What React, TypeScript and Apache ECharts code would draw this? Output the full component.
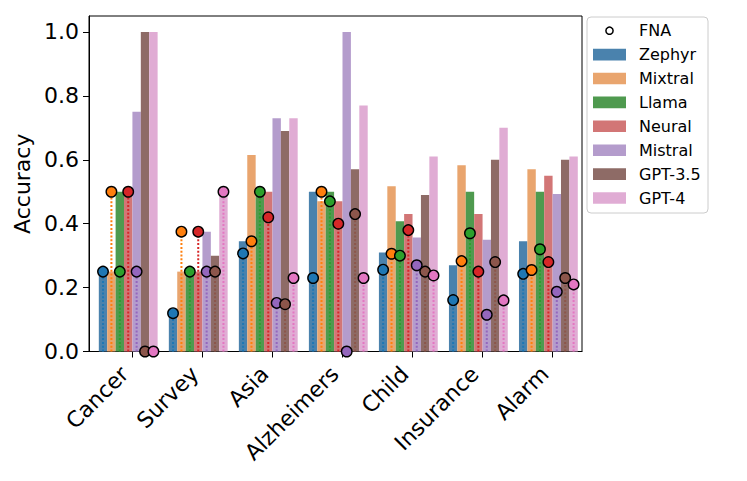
import React, { useEffect, useRef } from "react";
import * as echarts from "echarts";

const categories = ["Cancer", "Survey", "Asia", "Alzheimers", "Child", "Insurance", "Alarm"];
const models = ["Zephyr", "Mixtral", "Llama", "Neural", "Mistral", "GPT-3.5", "GPT-4"];

const zephyrAcc = [0.25, 0.12, 0.345, 0.5, 0.31, 0.27, 0.345];
const mixtralAcc = [0.25, 0.25, 0.615, 0.47, 0.517, 0.583, 0.57];
const llamaAcc = [0.5, 0.25, 0.5, 0.5, 0.408, 0.5, 0.5];
const neuralAcc = [0.5, 0.25, 0.5, 0.47, 0.43, 0.43, 0.55];
const mistralAcc = [0.75, 0.375, 0.73, 1.0, 0.357, 0.35, 0.493];
const gpt35Acc = [1.0, 0.3, 0.69, 0.57, 0.49, 0.6, 0.6];
const gpt4Acc = [1.0, 0.5, 0.73, 0.77, 0.61, 0.7, 0.61];

const zephyrFna = [0.25, 0.12, 0.307, 0.23, 0.256, 0.161, 0.243];
const mixtralFna = [0.5, 0.375, 0.345, 0.5, 0.306, 0.283, 0.255];
const llamaFna = [0.25, 0.25, 0.5, 0.47, 0.3, 0.37, 0.32];
const neuralFna = [0.5, 0.375, 0.42, 0.4, 0.38, 0.25, 0.28];
const mistralFna = [0.25, 0.25, 0.152, 0, 0.27, 0.115, 0.187];
const gpt35Fna = [0, 0.25, 0.148, 0.43, 0.25, 0.28, 0.23];
const gpt4Fna = [0, 0.5, 0.23, 0.23, 0.238, 0.16, 0.21];

const yTicks = [0, 0.2, 0.4, 0.6, 0.8, 1.0];

const accSeries = [zephyrAcc, mixtralAcc, llamaAcc, neuralAcc, mistralAcc, gpt35Acc, gpt4Acc];
const fnaSeries = [zephyrFna, mixtralFna, llamaFna, neuralFna, mistralFna, gpt35Fna, gpt4Fna];

const barColors = ["#4a82ad", "#e9a56e", "#4f9a4f", "#d27676", "#b49ccc", "#8e6b66", "#e0acd4"];
const markColors = ["#1f77b4", "#ff7f0e", "#2ca02c", "#d62728", "#9467bd", "#8c564b", "#e377c2"];

const BAR_W = 0.12;
const FONT = "DejaVu Sans";

export default function App() {
  const ref = useRef<HTMLDivElement>(null);
  useEffect(() => {
    if (!ref.current) return;
    const chart = echarts.init(ref.current, null, { renderer: "svg" });
    const series: any[] = [];
    models.forEach((name, m) => {
      series.push({
        type: "custom",
        name,
        z: 2,
        encode: { x: 0, y: 1 },
        data: categories.map((_, i) => [i, accSeries[m][i]]),
        renderItem: (params: any, api: any) => {
          const c = api.value(0);
          const v = api.value(1);
          const xc = c + (m - 3.5) * BAR_W;
          const a = api.coord([xc - BAR_W / 2, v]);
          const b = api.coord([xc + BAR_W / 2, 0]);
          return {
            type: "rect",
            shape: { x: a[0], y: a[1], width: b[0] - a[0], height: b[1] - a[1] },
            style: { fill: barColors[m] },
          };
        },
      });
    });
    models.forEach((name, m) => {
      series.push({
        type: "custom",
        name: name + " FNA line",
        z: 3,
        encode: { x: 0, y: 1 },
        data: categories.map((_, i) => [i, fnaSeries[m][i]]),
        renderItem: (params: any, api: any) => {
          const c = api.value(0);
          const v = api.value(1);
          const xc = c + (m - 3.5) * BAR_W;
          const a = api.coord([xc, v]);
          const b = api.coord([xc, 0]);
          return {
            type: "line",
            shape: { x1: b[0], y1: b[1], x2: a[0], y2: a[1] },
            style: { stroke: markColors[m], lineWidth: 2, lineDash: [2, 1.8] },
          };
        },
      });
    });
    models.forEach((name, m) => {
      series.push({
        type: "scatter",
        name: "FNA " + name,
        z: 4,
        clip: false,
        symbol: "circle",
        symbolSize: 10.5,
        itemStyle: { color: markColors[m], borderColor: "#000", borderWidth: 1.4, opacity: 1 },
        data: categories.map((_, i) => [i + (m - 3.5) * BAR_W, fnaSeries[m][i]]),
      });
    });

    const lx = 587, ly = 17;
    const rowY = (k: number) => 30.7 + k * 23.9;
    const graphics: any[] = [
      {
        type: "rect",
        shape: { x: lx, y: ly, width: 121, height: 196, r: 4 },
        style: { fill: "rgba(255,255,255,0.8)", stroke: "#cccccc", lineWidth: 1 },
        z: 10,
      },
      {
        type: "circle",
        shape: { cx: 609.5, cy: rowY(0), r: 3.6 },
        style: { fill: "none", stroke: "#000", lineWidth: 1.5 },
        z: 11,
      },
      {
        type: "text",
        x: 639,
        y: rowY(0),
        style: { text: "FNA", font: `16px "${FONT}"`, fill: "#000", verticalAlign: "middle", align: "left" },
        z: 11,
      },
    ];
    models.forEach((name, m) => {
      const cy = rowY(m + 1);
      graphics.push({
        type: "rect",
        shape: { x: 593, y: cy - 5.8, width: 33, height: 11.6 },
        style: { fill: barColors[m] },
        z: 11,
      });
      graphics.push({
        type: "text",
        x: 639,
        y: cy,
        style: { text: name, font: `16px "${FONT}"`, fill: "#000", verticalAlign: "middle", align: "left" },
        z: 11,
      });
    });

    chart.setOption({
      animation: false,
      backgroundColor: "#fff",
      textStyle: { fontFamily: FONT },
      grid: { left: 89, right: 165, top: 16, bottom: 129.5, show: true, borderColor: "#000", borderWidth: 1, backgroundColor: "transparent" },
      xAxis: {
        type: "value",
        min: -0.62,
        max: 6.42,
        splitLine: { show: false },
        axisLine: { show: true, onZero: false, lineStyle: { color: "#000", width: 1 } },
        axisTick: { show: true, length: 6, customValues: categories.map((_, i) => i), lineStyle: { color: "#000" } },
        axisLabel: {
          customValues: categories.map((_, i) => i),
          formatter: (v: number) => categories[Math.round(v)] ?? "",
          rotate: 45,
          fontSize: 22,
          color: "#000",
          fontFamily: FONT,
          margin: 11,
          padding: [0, 11, 0, 0],
        },
      },
      yAxis: {
        type: "value",
        min: 0,
        max: 1.05,
        name: "Accuracy",
        nameLocation: "middle",
        nameGap: 51,
        nameTextStyle: { fontSize: 22, color: "#000", fontFamily: FONT },
        splitLine: { show: false },
        axisLine: { show: true, onZero: false, lineStyle: { color: "#000", width: 1 } },
        axisTick: { show: true, length: 6, customValues: yTicks, lineStyle: { color: "#000" } },
        axisLabel: {
          customValues: yTicks,
          formatter: (v: number) => v.toFixed(1),
          fontSize: 22,
          color: "#000",
          fontFamily: FONT,
          margin: 10,
        },
      },
      series,
      graphic: graphics,
    });
    return () => chart.dispose();
  }, []);
  return <div ref={ref} style={{ position: "fixed", left: 0, top: 0, width: 747, height: 481 }} />;
}
